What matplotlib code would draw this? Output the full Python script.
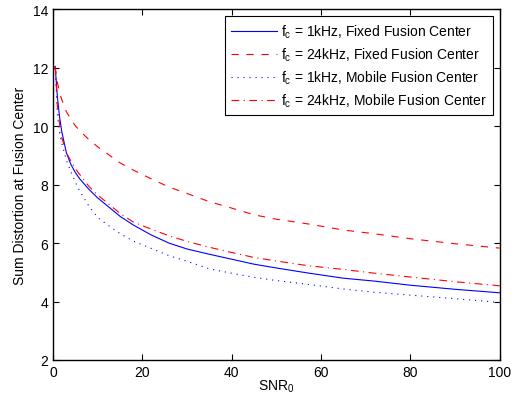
import matplotlib.pyplot as plt
import numpy as np

plt.rcParams["font.family"] = ["Liberation Sans", "DejaVu Sans"]
plt.rcParams["mathtext.fontset"] = "custom"
plt.rcParams["mathtext.rm"] = "Liberation Sans"

snr = [0.5, 1, 1.5, 2, 3, 4, 5, 6, 8, 10, 12, 15, 18, 22, 26, 30, 35, 40,
       45, 50, 57, 65, 72, 80, 90, 100]

fixed_1k = [12.05, 11.0, 10.3, 9.8, 9.1, 8.7, 8.42, 8.2, 7.85, 7.55, 7.3,
            6.92, 6.62, 6.28, 6.0, 5.8, 5.62, 5.45, 5.28, 5.15, 4.98, 4.8,
            4.7, 4.56, 4.42, 4.3]
fixed_24k = [12.05, 11.5, 11.15, 10.9, 10.5, 10.25, 10.02, 9.85, 9.55, 9.3,
             9.08, 8.75, 8.5, 8.2, 7.92, 7.7, 7.42, 7.2, 6.97, 6.82, 6.66,
             6.45, 6.32, 6.15, 5.98, 5.83]
mobile_1k = [12.05, 10.4, 9.75, 9.4, 8.85, 8.45, 8.1, 7.78, 7.28, 6.88,
             6.65, 6.33, 6.07, 5.82, 5.57, 5.38, 5.12, 4.97, 4.83, 4.72,
             4.59, 4.43, 4.32, 4.22, 4.1, 3.97]
mobile_24k = [12.05, 10.7, 10.05, 9.6, 9.1, 8.82, 8.55, 8.35, 7.95, 7.65,
              7.4, 7.02, 6.72, 6.48, 6.25, 6.06, 5.86, 5.68, 5.51, 5.39,
              5.23, 5.1, 4.97, 4.84, 4.68, 4.54]

labels = [
    r"$\mathregular{f_c}$ = 1kHz, Fixed Fusion Center",
    r"$\mathregular{f_c}$ = 24kHz, Fixed Fusion Center",
    r"$\mathregular{f_c}$ = 1kHz, Mobile Fusion Center",
    r"$\mathregular{f_c}$ = 24kHz, Mobile Fusion Center",
]

fig = plt.figure(figsize=(5.19, 4.02), dpi=100)
ax = fig.add_axes([0.102, 0.102, 0.861, 0.872])

lw = 0.8
ax.plot(snr, fixed_1k, color="blue", linestyle="-", linewidth=lw, label=labels[0])
ax.plot(snr, fixed_24k, color="red", linestyle=(0, (6.5, 7)), linewidth=lw, label=labels[1])
ax.plot(snr, mobile_1k, color="blue", linestyle=(0, (1, 4.4)), linewidth=lw, label=labels[2])
ax.plot(snr, mobile_24k, color="red", linestyle=(0, (7, 4, 1, 4)), linewidth=lw, label=labels[3])

ax.set_xlim(0, 100)
ax.set_ylim(2, 14)
ax.set_xticks(np.arange(0, 101, 20))
ax.set_yticks(np.arange(2, 15, 2))
ax.tick_params(direction="in", top=True, right=True, length=4, width=0.8,
               labelsize=10)
for s in ax.spines.values():
    s.set_linewidth(1.0)

ax.set_xlabel(r"$\mathregular{SNR_0}$", fontsize=10, labelpad=-1)
ax.set_ylabel("Sum Distortion at Fusion Center", fontsize=10, labelpad=4)

leg = ax.legend(loc="upper right", fontsize=10, fancybox=False, framealpha=1,
                edgecolor="black", handlelength=3.3, handletextpad=0.3,
                labelspacing=0.4, borderpad=0.45, borderaxespad=0.5)
leg.get_frame().set_linewidth(0.8)

fig.savefig("out.png", dpi=100)
